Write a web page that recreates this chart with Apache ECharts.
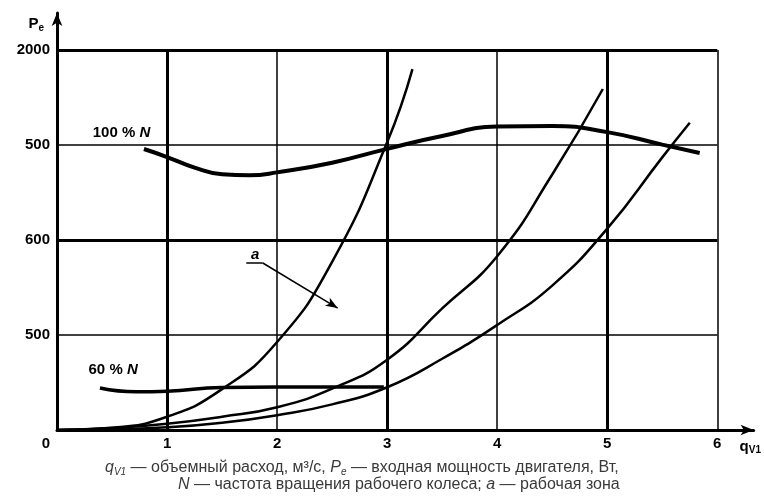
<!DOCTYPE html>
<html>
<head>
<meta charset="utf-8">
<script src="https://cdn.jsdelivr.net/npm/echarts@6/dist/echarts.min.js"></script>
<style>
  html, body { margin: 0; padding: 0; background: #fff; }
  #main { width: 764px; height: 501px; }
</style>
</head>
<body>
<div id="main"></div>
<script>
// сетка
var xGrid = [1, 2, 3, 4, 5, 6];
var xThick = [1, 3, 5];
var yGrid = [500, 1000, 1500, 2000];
var yThick = [1000, 2000];
var yTicks = [0, 500, 1000, 1500, 2000];
var yTickLabels = ['0', '500', '600', '500', '2000'];

// 100 % N
var q100 = [0.79, 1.0, 1.25, 1.5, 1.75, 2.0, 2.5, 3.0, 3.5, 4.0, 4.5, 5.0, 5.5, 5.84];
var p100 = [1479, 1437, 1381, 1346, 1341, 1356, 1407, 1480, 1548, 1597, 1600, 1568, 1502, 1458];
// 60 % N
var q60 = [0.39, 0.72, 1.0, 1.5, 2.0, 2.5, 2.97];
var p60 = [221, 201, 204, 224, 226, 226, 226];
// характеристики сети
var qA1 = [0, 0.5, 1, 1.5, 2, 2.5, 3, 3.23];
var pA1 = [0, 12, 70, 215, 463, 885, 1515, 1900];
var qA2 = [0, 0.5, 1, 1.5, 2, 2.5, 3, 3.5, 4, 4.5, 4.96];
var pA2 = [0, 10, 33, 70, 120, 218, 370, 640, 915, 1345, 1795];
var qA3 = [0, 0.5, 1, 1.5, 2, 2.5, 3, 3.5, 4, 4.5, 5, 5.5, 5.75];
var pA3 = [0, 4, 14, 38, 78, 135, 225, 375, 553, 760, 1060, 1435, 1617];

function pairs(q, p) {
    return q.map(function (v, i) { return [v, p[i]]; });
}

var font = 'Liberation Sans';

var myChart = echarts.init(document.getElementById('main'));

var gridLines = [];
xGrid.forEach(function (x) {
    var w = xThick.indexOf(x) >= 0 ? 3 : 1.5;
    gridLines.push([{ coord: [x, 0], lineStyle: { width: w } }, { coord: [x, 2000] }]);
});
yGrid.forEach(function (y) {
    var w = yThick.indexOf(y) >= 0 ? 3 : 1.5;
    gridLines.push([{ coord: [0, y], lineStyle: { width: w } }, { coord: [6, y] }]);
});
// стрелка к рабочей зоне
gridLines.push([{ coord: [1.72, 879], lineStyle: { width: 1.5 } }, { coord: [1.87, 879] }]);
gridLines.push([
    { coord: [1.87, 879], lineStyle: { width: 1.5 }, symbol: 'none' },
    { coord: [2.55, 642], symbol: 'arrow', symbolSize: [7, 12] }
]);

var curve = function (q, p, w) {
    return {
        type: 'line',
        smooth: 0.5,
        showSymbol: false,
        silent: true,
        lineStyle: { color: '#000', width: w },
        data: pairs(q, p)
    };
};

var capStyle = {
    fontFamily: font, fontSize: 16, fontWeight: 'normal', color: '#3a3a3a'
};

var s100 = curve(q100, p100, 4);
s100.name = '100 % N';
s100.markLine = {
    silent: true,
    symbol: 'none',
    label: { show: false },
    lineStyle: { color: '#000', type: 'solid' },
    data: gridLines
};
s100.markPoint = {
    silent: true,
    symbol: 'circle',
    symbolSize: 0,
    label: {
        show: true,
        position: 'inside',
        fontFamily: font,
        fontSize: 15,
        fontWeight: 'bold',
        color: '#000',
        rich: {
            n: { fontFamily: font, fontSize: 15, fontWeight: 'bold', fontStyle: 'italic', color: '#000' }
        }
    },
    data: [
        { coord: [0.586, 1563], label: { formatter: '100 % {n|N}' } },
        { coord: [0.51, 316], label: { formatter: '60 % {n|N}' } },
        { coord: [1.80, 921], label: { formatter: '{n|a}' } }
    ]
};
var s60 = curve(q60, p60, 3.5);
s60.name = '60 % N';

var option = {
    animation: false,
    title: [{
        left: 100,
        top: 453,
        text: '{i|q}{sub|V1} — объемный расход, м³/с, {i|P}{sub|e} — входная мощность двигателя, Вт,',
        textStyle: Object.assign({}, capStyle, {
            rich: {
                i: Object.assign({}, capStyle, { fontStyle: 'italic' }),
                sub: Object.assign({}, capStyle, { fontSize: 10, fontStyle: 'italic', padding: [9, 0, 0, 0] })
            }
        })
    }, {
        left: 173,
        top: 472,
        text: '{i|N} — частота вращения рабочего колеса; {i|a} — рабочая зона',
        textStyle: Object.assign({}, capStyle, {
            rich: {
                i: Object.assign({}, capStyle, { fontStyle: 'italic' })
            }
        })
    }],
    grid: { left: 57, right: 4, top: 13, bottom: 71 },
    xAxis: {
        type: 'value',
        min: 0,
        max: 6.33,
        interval: 1,
        name: '{q|q}{s|V1}',
        nameLocation: 'end',
        nameGap: -14,
        nameTextStyle: {
            verticalAlign: 'top',
            padding: [9, 0, 0, 0],
            rich: {
                q: { fontFamily: font, fontSize: 15, fontWeight: 'bold', color: '#000' },
                s: { fontFamily: font, fontSize: 10, fontWeight: 'bold', color: '#000', padding: [6, 0, 0, 0] }
            }
        },
        axisLine: {
            symbol: ['none', 'arrow'],
            symbolSize: [8, 13],
            lineStyle: { color: '#000', width: 3 }
        },
        axisTick: { show: false },
        splitLine: { show: false },
        axisLabel: {
            margin: 6,
            showMaxLabel: false,
            fontFamily: font,
            fontSize: 15,
            fontWeight: 'bold',
            color: '#000',
            formatter: function (v) {
                if (v === 0) return '{z|0}';
                return xGrid.indexOf(v) >= 0 ? String(v) : '';
            },
            rich: {
                z: { fontFamily: font, fontSize: 15, fontWeight: 'bold', color: '#000', padding: [0, 22, 0, 0] }
            }
        }
    },
    yAxis: {
        type: 'value',
        min: 0,
        max: 2195,
        interval: 500,
        name: '{p|P}{s|e}',
        nameLocation: 'end',
        nameGap: -20,
        nameTextStyle: {
            align: 'right',
            padding: [0, 13, 0, 0],
            rich: {
                p: { fontFamily: font, fontSize: 15, fontWeight: 'bold', color: '#000' },
                s: { fontFamily: font, fontSize: 10, fontWeight: 'bold', color: '#000', padding: [8, 0, 0, 0] }
            }
        },
        axisLine: {
            show: true,
            symbol: ['none', 'arrow'],
            symbolSize: [8, 13],
            lineStyle: { color: '#000', width: 3 }
        },
        axisTick: { show: false },
        splitLine: { show: false },
        axisLabel: {
            margin: 7,
            showMaxLabel: false,
            fontFamily: font,
            fontSize: 15,
            fontWeight: 'bold',
            color: '#000',
            formatter: function (v) {
                var i = yTicks.indexOf(v);
                if (i <= 0) return '';
                return yTickLabels[i];
            }
        }
    },
    series: [
        s100,
        s60,
        curve(qA1, pA1, 2.5),
        curve(qA2, pA2, 2.5),
        curve(qA3, pA3, 2.5)
    ]
};

myChart.setOption(option);
window.addEventListener("resize", function () {
    myChart.resize();
});
</script>
</body>
</html>
